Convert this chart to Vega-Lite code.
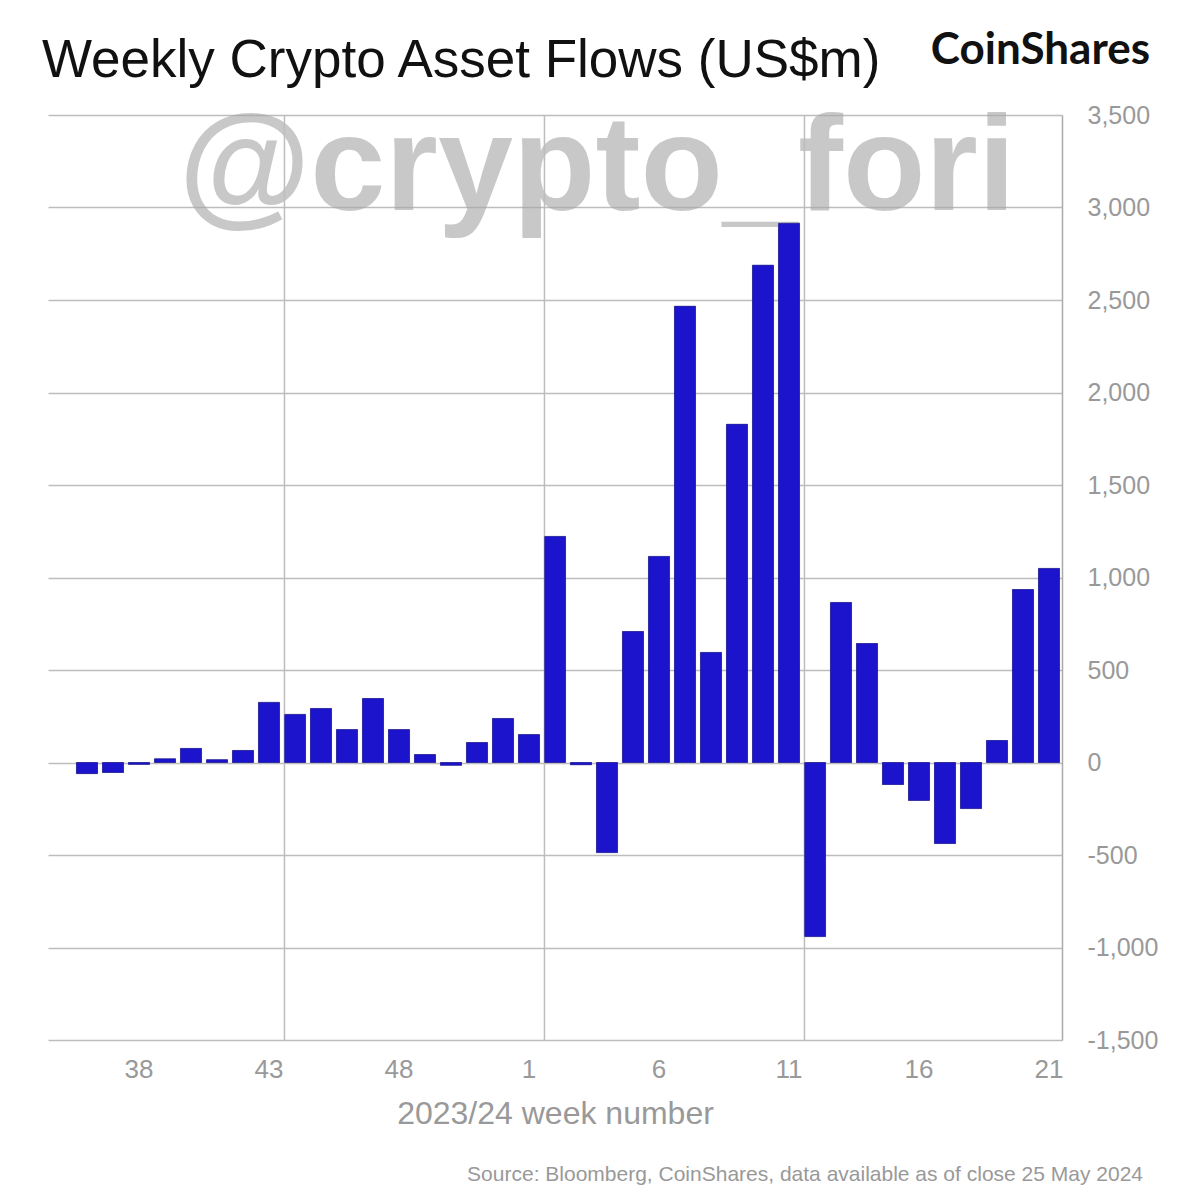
{
  "$schema": "https://vega.github.io/schema/vega-lite/v6.json",
  "width": 1014,
  "height": 925,
  "autosize": "none",
  "padding": {"left": 48, "top": 115, "right": 132, "bottom": 160},
  "background": "white",
  "config": {
    "view": {"stroke": null},
    "font": "Liberation Sans"
  },
  "datasets": {
    "flows": [
      {"year": 2023, "week": 36, "flow": -60},
      {"year": 2023, "week": 37, "flow": -54},
      {"year": 2023, "week": 38, "flow": -10},
      {"year": 2023, "week": 39, "flow": 20},
      {"year": 2023, "week": 40, "flow": 76},
      {"year": 2023, "week": 41, "flow": 15},
      {"year": 2023, "week": 42, "flow": 65},
      {"year": 2023, "week": 43, "flow": 325},
      {"year": 2023, "week": 44, "flow": 260},
      {"year": 2023, "week": 45, "flow": 292},
      {"year": 2023, "week": 46, "flow": 178},
      {"year": 2023, "week": 47, "flow": 346},
      {"year": 2023, "week": 48, "flow": 178},
      {"year": 2023, "week": 49, "flow": 43},
      {"year": 2023, "week": 50, "flow": -15},
      {"year": 2023, "week": 51, "flow": 108},
      {"year": 2023, "week": 52, "flow": 238},
      {"year": 2024, "week": 1, "flow": 151},
      {"year": 2024, "week": 2, "flow": 1222},
      {"year": 2024, "week": 3, "flow": -12},
      {"year": 2024, "week": 4, "flow": -487},
      {"year": 2024, "week": 5, "flow": 708},
      {"year": 2024, "week": 6, "flow": 1114},
      {"year": 2024, "week": 7, "flow": 2466},
      {"year": 2024, "week": 8, "flow": 595},
      {"year": 2024, "week": 9, "flow": 1828},
      {"year": 2024, "week": 10, "flow": 2688},
      {"year": 2024, "week": 11, "flow": 2915},
      {"year": 2024, "week": 12, "flow": -941},
      {"year": 2024, "week": 13, "flow": 865},
      {"year": 2024, "week": 14, "flow": 643},
      {"year": 2024, "week": 15, "flow": -119},
      {"year": 2024, "week": 16, "flow": -205},
      {"year": 2024, "week": 17, "flow": -438},
      {"year": 2024, "week": 18, "flow": -249},
      {"year": 2024, "week": 19, "flow": 119},
      {"year": 2024, "week": 20, "flow": 935},
      {"year": 2024, "week": 21, "flow": 1049}
    ],
    "gridweeks": [{"week": 44}, {"week": 2}, {"week": 12}],
    "texts": [
      {"title": "Weekly Crypto Asset Flows (US$m)", "brand": "CoinShares", "source": "Source: Bloomberg, CoinShares, data available as of close 25 May 2024", "mark": "@crypto_fori"}
    ]
  },
  "layer": [
    {
      "data": {"name": "flows"},
      "mark": {"type": "bar", "color": "#1c13cc", "stroke": "#23237a", "strokeWidth": 0.7, "strokeOpacity": 0.6},
      "encoding": {
        "x": {
          "field": "week",
          "type": "ordinal",
          "scale": {
            "domain": [35, 36, 37, 38, 39, 40, 41, 42, 43, 44, 45, 46, 47, 48, 49, 50, 51, 52, 1, 2, 3, 4, 5, 6, 7, 8, 9, 10, 11, 12, 13, 14, 15, 16, 17, 18, 19, 20, 21],
            "paddingInner": 0.19,
            "paddingOuter": 0.095
          },
          "axis": {
            "values": [38, 43, 48, 1, 6, 11, 16, 21],
            "labelAngle": 0,
            "labelFontSize": 26,
            "labelColor": "#999999",
            "labelPadding": 16,
            "ticks": false,
            "domain": false,
            "grid": false,
            "title": "2023/24 week number",
            "titleFontSize": 32,
            "titleFontWeight": "normal",
            "titleColor": "#999999",
            "titlePadding": 16
          }
        },
        "y": {
          "field": "flow",
          "type": "quantitative",
          "scale": {"domain": [-1500, 3500], "nice": false, "zero": false},
          "axis": {
            "orient": "right",
            "values": [-1500, -1000, -500, 0, 500, 1000, 1500, 2000, 2500, 3000, 3500],
            "labelExpr": "replace(format(datum.value, ','), '−', '-')",
            "labelAlign": "left",
            "labelPadding": 25,
            "labelFontSize": 25,
            "labelColor": "#999999",
            "ticks": false,
            "domain": true,
            "domainColor": "#aaaaaa",
            "domainWidth": 1.5,
            "grid": true,
            "gridColor": "#bdbdbd",
            "gridWidth": 1.5,
            "title": null
          }
        }
      }
    },
    {
      "data": {"name": "texts"},
      "mark": {"type": "text", "align": "center", "baseline": "alphabetic", "font": "Liberation Sans", "fontWeight": "bold", "fontSize": 135, "color": "#a8a8a8", "opacity": 0.62, "dx": -10},
      "encoding": {
        "x": {"datum": 4, "type": "ordinal"},
        "y": {"datum": 2985, "type": "quantitative"},
        "text": {"field": "mark"}
      }
    },
    {
      "data": {"name": "gridweeks"},
      "mark": {"type": "rule", "color": "#bdbdbd", "strokeWidth": 1.5},
      "encoding": {
        "x": {"field": "week", "type": "ordinal", "bandPosition": 0}
      }
    },
    {
      "data": {"name": "flows"},
      "mark": {"type": "bar", "color": "#1c13cc", "stroke": "#23237a", "strokeWidth": 0.7, "strokeOpacity": 0.6},
      "encoding": {
        "x": {"field": "week", "type": "ordinal"},
        "y": {"field": "flow", "type": "quantitative"}
      }
    },
    {
      "data": {"name": "texts"},
      "mark": {"type": "text", "align": "left", "baseline": "alphabetic", "font": "Liberation Sans", "fontSize": 53, "color": "#111111", "dx": -19},
      "encoding": {
        "x": {"datum": 35, "type": "ordinal"},
        "y": {"datum": 3705, "type": "quantitative"},
        "text": {"field": "title"}
      }
    },
    {
      "data": {"name": "texts"},
      "mark": {"type": "text", "align": "right", "baseline": "alphabetic", "font": "Lato", "fontWeight": "bold", "fontSize": 44, "color": "#111111", "dx": 101},
      "encoding": {
        "x": {"datum": 21, "type": "ordinal"},
        "y": {"datum": 3775, "type": "quantitative"},
        "text": {"field": "brand"}
      }
    },
    {
      "data": {"name": "texts"},
      "mark": {"type": "text", "align": "right", "baseline": "alphabetic", "font": "Liberation Sans", "fontSize": 21, "color": "#999999", "dx": 94},
      "encoding": {
        "x": {"datum": 21, "type": "ordinal"},
        "y": {"datum": -2261, "type": "quantitative"},
        "text": {"field": "source"}
      }
    }
  ]
}
